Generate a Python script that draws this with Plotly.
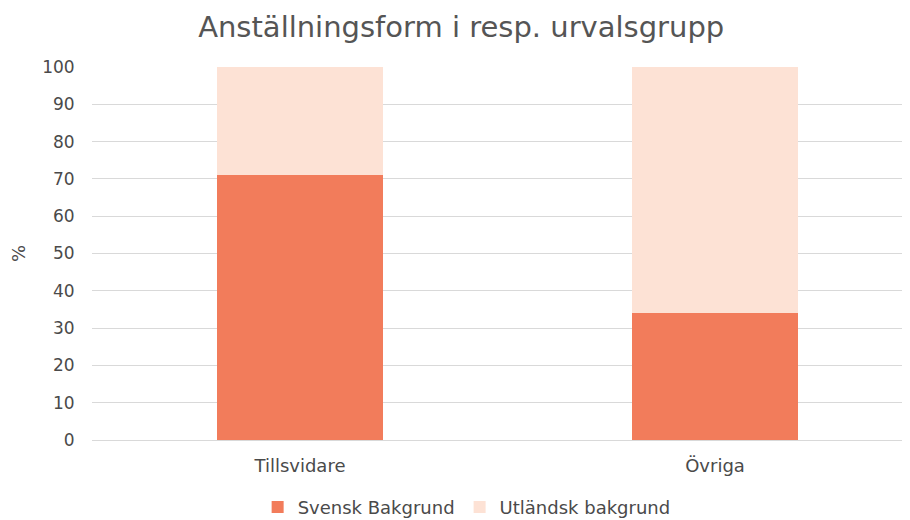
import plotly.graph_objects as go

categories = ["Tillsvidare", "Övriga"]
svensk = [71, 34]
utlandsk = [29, 66]
series_names = ["Svensk Bakgrund", "Utländsk bakgrund"]
y_ticks = [0, 10, 20, 30, 40, 50, 60, 70, 80, 90, 100]

FONT = "'DejaVu Sans', sans-serif"
TXT = "#4a4a4a"

fig = go.Figure()
fig.add_trace(go.Bar(x=categories, y=svensk, name=series_names[0],
                     marker=dict(color="#F27C5B", line=dict(width=0)), width=0.4))
fig.add_trace(go.Bar(x=categories, y=utlandsk, name=series_names[1],
                     marker=dict(color="#FDE2D5", line=dict(width=0)), width=0.4))

fig.update_layout(
    barmode="stack",
    width=910, height=520,
    margin=dict(l=84, r=0, t=59, b=88, autoexpand=False),
    paper_bgcolor="white", plot_bgcolor="white",
    font=dict(family=FONT, color=TXT, size=17),
    title=dict(text="Anställningsform i resp. urvalsgrupp", x=0.498, xanchor="center",
               xref="container", y=0.963, yanchor="middle", yref="container",
               font=dict(size=29, color="#555555", family=FONT)),
    legend=dict(orientation="h", x=0.504, xanchor="center", xref="container",
                y=0.040, yanchor="middle", yref="container",
                font=dict(size=18, color=TXT), itemwidth=30, traceorder="normal"),
    bargap=0,
)
fig.update_xaxes(range=[-0.501, 1.489], showgrid=False, showline=True, automargin=False,
                 linecolor="#D9D9D9", linewidth=1, ticks="outside", ticklen=9,
                 tickcolor="rgba(0,0,0,0)", tickfont=dict(size=18, color=TXT))
fig.update_yaxes(range=[0, 100], tickvals=y_ticks, showgrid=True, gridcolor="#D9D9D9",
                 gridwidth=1, zeroline=False, ticks="outside", ticklen=13, automargin=False,
                 tickcolor="rgba(0,0,0,0)", tickfont=dict(size=17, color=TXT),
                 title=dict(text="%", font=dict(size=18, color=TXT), standoff=12))

fig.write_html("out.html")
